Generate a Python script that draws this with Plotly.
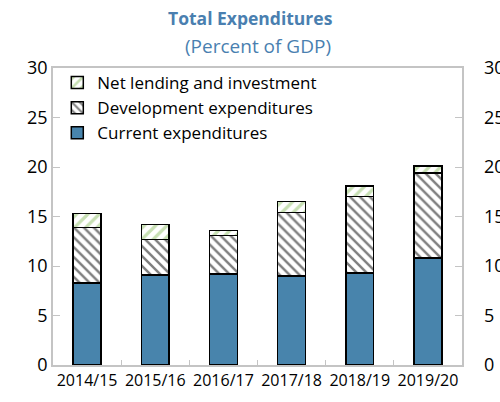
import plotly.graph_objects as go

years = ["2014/15", "2015/16", "2016/17", "2017/18", "2018/19", "2019/20"]
current_exp = [8.3, 9.1, 9.2, 9.0, 9.3, 10.8]
development_exp = [5.6, 3.6, 3.9, 6.4, 7.7, 8.6]
net_lending = [1.4, 1.5, 0.5, 1.1, 1.1, 0.7]
y_ticks = [0, 5, 10, 15, 20, 25, 30]

FONT = "Open Sans"
TITLE_BLUE = "#4a7fb0"
FRAME = "#c4c4c4"

W, H = 500, 402
M_L, M_R, M_T, M_B = 53, 17, 68, 37
FRAME_RIGHT = 462          # right edge of the framed plot box (px)
plot_w = W - M_L - M_R
plot_h = H - M_T - M_B
x_dom_end = (FRAME_RIGHT - M_L) / plot_w

fig = go.Figure()
fig.add_trace(go.Bar(
    x=years, y=current_exp, name="Current expenditures",
    marker=dict(color="#4884ac", line=dict(color="black", width=1.5)),
))
fig.add_trace(go.Bar(
    x=years, y=development_exp, name="Development expenditures",
    marker=dict(color="white", line=dict(color="black", width=1.5),
                pattern=dict(shape="\\", fgcolor="black", bgcolor="white",
                             size=7, solidity=0.35, fillmode="overlay")),
))
fig.add_trace(go.Bar(
    x=years, y=net_lending, name="Net lending and investment",
    marker=dict(color="white", line=dict(color="black", width=1.5),
                pattern=dict(shape="/", fgcolor="#8fbf68", bgcolor="white",
                             size=8, solidity=0.4, fillmode="overlay")),
))
# invisible trace so the right-hand label axis is drawn
fig.add_trace(go.Scatter(x=years, y=[0] * len(years), yaxis="y2",
                         mode="markers", marker=dict(opacity=0),
                         showlegend=False, hoverinfo="skip"))

fig.update_layout(
    width=W, height=H,
    margin=dict(l=M_L, r=M_R, t=M_T, b=M_B),
    barmode="stack", bargap=0.59,
    plot_bgcolor="white", paper_bgcolor="white",
    font=dict(family=FONT, color="black"),
    showlegend=True,
    legend=dict(x=0.01, y=1 + 3 / plot_h, xanchor="left", yanchor="top",
                traceorder="reversed", bgcolor="rgba(0,0,0,0)",
                font=dict(size=17, family=FONT), tracegroupgap=0,
                itemwidth=30),
    xaxis=dict(domain=[0, x_dom_end], showline=True, linecolor=FRAME,
               linewidth=1.5, mirror=True, ticks="inside",
               tickson="boundaries", ticklen=5, tickcolor=FRAME,
               tickfont=dict(size=16, family=FONT), tickangle=0,
               showgrid=False, automargin=False),
    yaxis=dict(range=[0, 30], tickvals=y_ticks, showline=True, linecolor=FRAME,
               linewidth=1.5, mirror="ticks", ticks="inside", ticklen=7,
               tickcolor=FRAME, tickfont=dict(size=18, family=FONT),
               showgrid=False, zeroline=False, automargin=False),
    yaxis2=dict(range=[0, 30], tickvals=y_ticks, overlaying="y", side="right",
                anchor="free", position=1.0, ticks="", showline=False,
                tickfont=dict(size=18, family=FONT), showgrid=False,
                zeroline=False, automargin=False),
    annotations=[
        dict(text="<b>Total Expenditures</b>", x=(250 - M_L) / plot_w,
             y=1 + (M_T - 18) / plot_h, xref="paper", yref="paper",
             xanchor="center", yanchor="middle", showarrow=False,
             font=dict(size=17.5, color=TITLE_BLUE, family=FONT)),
        dict(text="(Percent of GDP)", x=(258 - M_L) / plot_w,
             y=1 + (M_T - 46) / plot_h, xref="paper", yref="paper",
             xanchor="center", yanchor="middle", showarrow=False,
             font=dict(size=19, color=TITLE_BLUE, family=FONT)),
    ],
)

fig.write_html("out.html")
